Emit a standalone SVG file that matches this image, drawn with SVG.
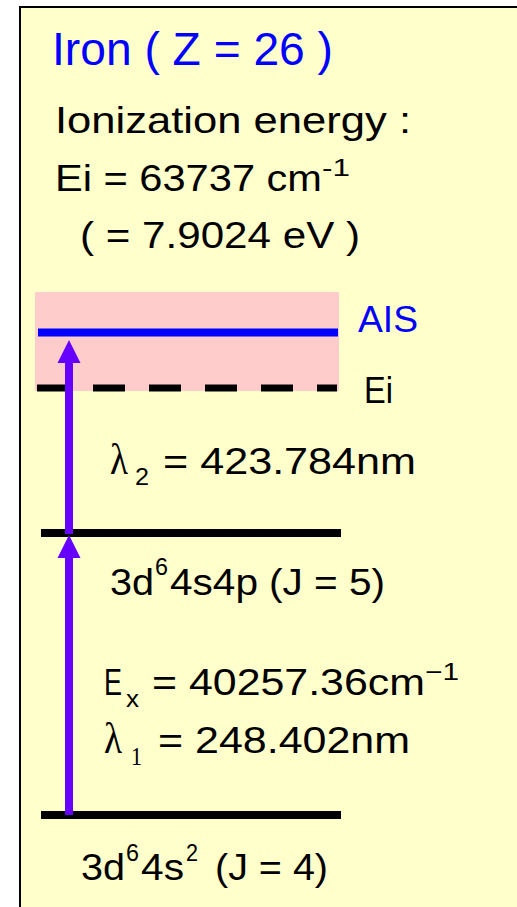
<svg xmlns="http://www.w3.org/2000/svg" width="517" height="907" viewBox="0 0 517 907">
<style>
.t{font-family:"Liberation Sans","Arial",sans-serif;font-size:37px;fill:#000}
.s{font-family:"Liberation Sans","Arial",sans-serif;font-size:24px;fill:#000}
.g{font-family:"Liberation Serif","Times New Roman",serif;fill:#000}
.blue{fill:#0000FF}
.lvl{stroke:#000;stroke-width:8;fill:none}
.arr{stroke:#6600FF;stroke-width:8;fill:none}
.head{fill:#6600FF}
</style>
<rect x="20" y="7" width="510" height="910" fill="#FFFFCC" stroke="#000" stroke-width="2"/>
<g id="header">
<text class="t blue" x="52" y="65" style="font-size:46px" textLength="281" lengthAdjust="spacingAndGlyphs">Iron ( Z = 26 )</text>
<text class="t" x="55" y="133" textLength="356" lengthAdjust="spacingAndGlyphs">Ionization energy :</text>
<text class="t" x="55" y="191" textLength="267" lengthAdjust="spacingAndGlyphs">Ei = 63737 cm</text>
<text class="s" x="322" y="176" textLength="28" lengthAdjust="spacingAndGlyphs">-1</text>
<text class="t" x="80" y="248" textLength="280" lengthAdjust="spacingAndGlyphs">( = 7.9024 eV )</text>
</g>
<g id="ais-level">
<rect x="35" y="292" width="304" height="99" fill="#FFCCCC"/>
<line x1="38" y1="332.5" x2="338" y2="332.5" stroke="#0000FF" stroke-width="8"/>
<text class="t blue" x="358" y="332" textLength="60" lengthAdjust="spacingAndGlyphs">AIS</text>
</g>
<g id="ei-level">
<line x1="37" y1="388" x2="337" y2="388" stroke="#000" stroke-width="7" stroke-dasharray="32 24"/>
<text class="t" x="364" y="403" textLength="29" lengthAdjust="spacingAndGlyphs">Ei</text>
</g>
<g id="excited-level">
<line class="lvl" x1="41" y1="533" x2="341" y2="533"/>
<text class="t" x="110" y="595" textLength="44" lengthAdjust="spacingAndGlyphs">3d</text>
<text class="s" x="155" y="575" textLength="13" lengthAdjust="spacingAndGlyphs">6</text>
<text class="t" x="170" y="595" textLength="88" lengthAdjust="spacingAndGlyphs">4s4p</text>
<text class="t" x="269" y="595" textLength="116" lengthAdjust="spacingAndGlyphs">(J = 5)</text>
</g>
<g id="ground-level">
<line class="lvl" x1="41" y1="815" x2="341" y2="815"/>
<text class="t" x="81" y="880" textLength="44" lengthAdjust="spacingAndGlyphs">3d</text>
<text class="s" x="126" y="861" textLength="13" lengthAdjust="spacingAndGlyphs">6</text>
<text class="t" x="141" y="880" textLength="43" lengthAdjust="spacingAndGlyphs">4s</text>
<text class="s" x="186" y="861" textLength="12" lengthAdjust="spacingAndGlyphs">2</text>
<text class="t" x="215" y="880" textLength="113" lengthAdjust="spacingAndGlyphs">(J = 4)</text>
</g>
<g id="connectors">
<line class="arr" x1="69" y1="815" x2="69" y2="556"/>
<polygon class="head" points="69,535 57.5,558 80.5,558"/>
<line class="arr" x1="69" y1="534" x2="69" y2="361"/>
<polygon class="head" points="69,340 57.5,363 80.5,363"/>
</g>
<g id="label-lambda2">
<text class="g" x="110" y="474" style="font-size:44px" textLength="18" lengthAdjust="spacingAndGlyphs">λ</text>
<text class="s" x="135" y="485" textLength="14" lengthAdjust="spacingAndGlyphs">2</text>
<text class="t" x="163" y="474" textLength="253" lengthAdjust="spacingAndGlyphs">= 423.784nm</text>
</g>
<g id="label-lambda1">
<text class="t" x="104" y="695" textLength="18" lengthAdjust="spacingAndGlyphs">E</text>
<text class="s" x="126" y="707" textLength="13" lengthAdjust="spacingAndGlyphs">x</text>
<text class="t" x="152" y="695" textLength="273" lengthAdjust="spacingAndGlyphs">= 40257.36cm</text>
<text class="s" x="425" y="680" textLength="34" lengthAdjust="spacingAndGlyphs">−1</text>
<text class="g" x="104" y="753" style="font-size:44px" textLength="18" lengthAdjust="spacingAndGlyphs">λ</text>
<text class="g" x="131" y="765" style="font-size:26px" textLength="11" lengthAdjust="spacingAndGlyphs">1</text>
<text class="t" x="158" y="753" textLength="252" lengthAdjust="spacingAndGlyphs">= 248.402nm</text>
</g>
</svg>
